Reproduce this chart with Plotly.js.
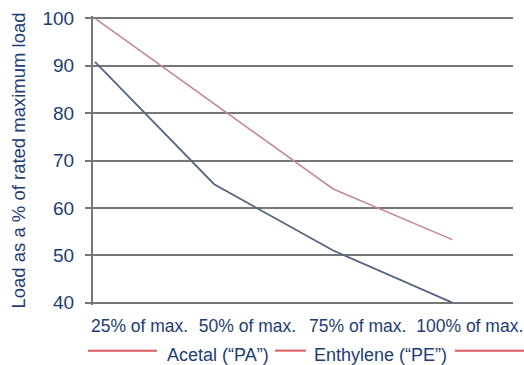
<!DOCTYPE html>
<html>
<head>
<meta charset="utf-8">
<script src="https://cdn.plot.ly/plotly-3.0.1.min.js"></script>
<style>html,body{margin:0;padding:0;background:#fff;}#chart{width:524px;height:365px;}</style>
</head>
<body>
<div id="chart"></div>
<script>
// Data
const loadSteps = [0, 1, 2, 3];
const tickLabels = ["25% of max.", "50% of max.", "75% of max.", "100% of max."];
const acetalPA = [100, 82, 64, 53.3];
const enthylenePE = [90.8, 65, 51, 40];
const seriesNames = ["Acetal (\u201CPA\u201D)", "Enthylene (\u201CPE\u201D)"];
const yTicks = [40, 50, 60, 70, 80, 90, 100];

const navy = "#1d3c76";
const gridCol = "#74787b";
const redLine = "#dc5a5c";
const fontFam = "Liberation Sans, Arial, sans-serif";

const traces = [
  {x: loadSteps, y: acetalPA, mode: "lines", name: seriesNames[0],
   line: {color: "#c7869c", width: 1.6}},
  {x: loadSteps, y: enthylenePE, mode: "lines", name: seriesNames[1],
   line: {color: "#566680", width: 1.8}}
];

// map pixel x to paper
const L = 93, W = 420, B = 305.4, H = 288.8;
const px = v => (v - L) / W;
const py = v => (B - v) / H;

const layout = {
  width: 524, height: 365,
  margin: {l: L, r: 524 - L - W, t: 365 - 60 - H, b: 60},
  paper_bgcolor: "#fff", plot_bgcolor: "#fff",
  showlegend: false,
  font: {family: fontFam, color: navy, size: 18},
  xaxis: {
    range: [-0.017, 3.51],
    showgrid: false, zeroline: false, showline: false,
    tickmode: "array",
    tickvals: [0.374, 1.28, 2.206, 3.147],
    ticktext: tickLabels,
    ticks: "",
    ticklabeloverflow: "allow",
    ticklabelstandoff: 8,
    tickfont: {size: 17.5, color: navy, family: fontFam},
    fixedrange: true
  },
  yaxis: {
    range: [39.5, 100.5],
    tickmode: "array", tickvals: yTicks,
    showgrid: true, gridcolor: gridCol, gridwidth: 2,
    zeroline: false,
    showline: true, linecolor: gridCol, linewidth: 2,
    ticks: "outside", ticklen: 6, tickwidth: 2, tickcolor: gridCol,
    ticklabelstandoff: 7,
    tickfont: {size: 19, color: navy, family: fontFam},
    title: {text: "Load as a % of rated maximum load", font: {size: 18.5, color: navy, family: fontFam}, standoff: 12},
    fixedrange: true
  },
  shapes: [
    {type: "line", xref: "paper", yref: "paper", x0: px(88), x1: px(157), y0: py(351), y1: py(351), line: {color: redLine, width: 2}},
    {type: "line", xref: "paper", yref: "paper", x0: px(275), x1: px(306), y0: py(351), y1: py(351), line: {color: redLine, width: 2}},
    {type: "line", xref: "paper", yref: "paper", x0: px(455), x1: px(526), y0: py(351), y1: py(351), line: {color: redLine, width: 2}}
  ],
  annotations: [
    {xref: "paper", yref: "paper", x: px(217.5), y: py(355), text: seriesNames[0], showarrow: false, xanchor: "center", yanchor: "middle", font: {size: 18, color: navy, family: fontFam}},
    {xref: "paper", yref: "paper", x: px(380.5), y: py(355), text: seriesNames[1], showarrow: false, xanchor: "center", yanchor: "middle", font: {size: 18, color: navy, family: fontFam}}
  ]
};

Plotly.newPlot("chart", traces, layout, {staticPlot: true, displayModeBar: false});
</script>
</body>
</html>
